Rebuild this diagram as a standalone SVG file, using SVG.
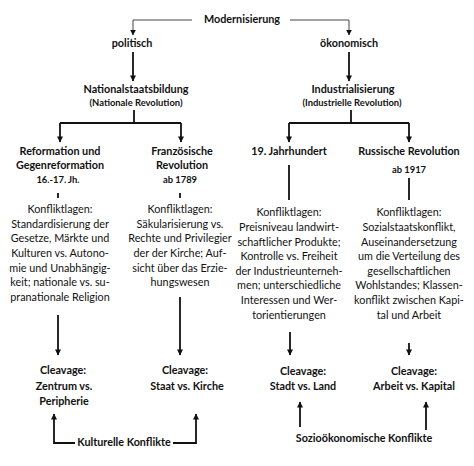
<svg xmlns="http://www.w3.org/2000/svg" width="474" height="466" viewBox="0 0 474 466">
<defs>
<style>
text{font-family:Lato,"Liberation Sans",sans-serif;fill:#111;text-anchor:middle}
.b{font-weight:bold;font-size:10.8px}
.s{font-weight:bold;font-size:9.4px}
.r{font-size:10.8px}
.c{fill:none;stroke:#111;stroke-width:1.8}
.t{fill:none;stroke:#444;stroke-width:1}
</style>
<marker id="ah" viewBox="0 0 10 10" refX="9" refY="5" markerWidth="3.4" markerHeight="3.4" orient="auto"><path d="M0,0L10,5L0,10z" fill="#111"/></marker>
<marker id="at" viewBox="0 0 10 10" refX="9" refY="5" markerWidth="6" markerHeight="6" orient="auto"><path d="M0,0L10,5L0,10z" fill="#111"/></marker>
</defs>
<rect width="474" height="466" fill="#fff"/>
<g id="connectors">
<path class="t" d="M192,20H133V35" marker-end="url(#at)"/>
<path class="t" d="M290,20H349V35" marker-end="url(#at)"/>
<path class="c" d="M133,52V81" marker-end="url(#ah)"/>
<path class="c" d="M349,52V81" marker-end="url(#ah)"/>
<path class="c" d="M134,110V123"/>
<path class="c" d="M60,123H181"/>
<path class="c" d="M60,123V142" marker-end="url(#ah)"/>
<path class="c" d="M181,123V142" marker-end="url(#ah)"/>
<path class="c" d="M351,110V123"/>
<path class="c" d="M289,123H409"/>
<path class="c" d="M289,123V142" marker-end="url(#ah)"/>
<path class="c" d="M409,123V142" marker-end="url(#ah)"/>
<path class="c" d="M58,193V198"/>
<path class="c" d="M180,193V198"/>
<path class="c" d="M289,165V200"/>
<path class="c" d="M409,178V200"/>
<path class="c" d="M58,315V355" marker-end="url(#ah)"/>
<path class="c" d="M180,297V355" marker-end="url(#ah)"/>
<path class="c" d="M290,332V355" marker-end="url(#ah)"/>
<path class="c" d="M409,343V355" marker-end="url(#ah)"/>
<path class="c" d="M75,443H54V414" marker-end="url(#ah)"/>
<path class="c" d="M173,443H196V414" marker-end="url(#ah)"/>
<path class="c" d="M300,427V402" marker-end="url(#ah)"/>
<path class="c" d="M426,430V402" marker-end="url(#ah)"/>
</g>
<g id="modernisierung"><text class="b" x="242" y="23">Modernisierung</text></g>
<g id="politisch"><text class="b" x="132" y="47">politisch</text></g>
<g id="oekonomisch"><text class="b" x="349" y="47">ökonomisch</text></g>
<g id="nationalstaatsbildung"><text class="b" x="136" y="93">Nationalstaatsbildung</text><text class="s" x="136" y="106">(Nationale Revolution)</text></g>
<g id="industrialisierung"><text class="b" x="353" y="93">Industrialisierung</text><text class="s" x="352" y="106">(Industrielle Revolution)</text></g>
<g id="reformation">
<text class="b" x="60" y="155">Reformation und</text>
<text class="b" x="60" y="169">Gegenreformation</text>
<text class="s" x="58" y="183">16.-17. Jh.</text>
<text class="r"><tspan x="60" y="213">Konfliktlagen:</tspan><tspan x="60" y="227.5">Standardisierung der</tspan><tspan x="60" y="242">Gesetze, Märkte und</tspan><tspan x="60" y="257">Kulturen vs. Autono-</tspan><tspan x="60" y="271.5">mie und Unabhängig-</tspan><tspan x="60" y="286">keit; nationale vs. su-</tspan><tspan x="60" y="301">pranationale Religion</tspan></text>
</g>
<g id="franzoesische">
<text class="b" x="182" y="155">Französische</text>
<text class="b" x="182" y="169">Revolution</text>
<text class="s" x="180" y="183">ab 1789</text>
<text class="r"><tspan x="180" y="213">Konfliktlagen:</tspan><tspan x="180" y="227.5">Säkularisierung vs.</tspan><tspan x="180" y="242">Rechte und Privilegier</tspan><tspan x="180" y="257">der der Kirche; Auf-</tspan><tspan x="180" y="271.5">sicht über das Erzie-</tspan><tspan x="180" y="286">hungswesen</tspan></text>
</g>
<g id="jahrhundert">
<text class="b" x="289" y="155">19. Jahrhundert</text>
<text class="r"><tspan x="289" y="216">Konfliktlagen:</tspan><tspan x="289" y="231">Preisniveau landwirt-</tspan><tspan x="289" y="245.5">schaftlicher Produkte;</tspan><tspan x="289" y="260">Kontrolle vs. Freiheit</tspan><tspan x="289" y="274.5">der Industrieunterneh-</tspan><tspan x="289" y="289">men; unterschiedliche</tspan><tspan x="289" y="304">Interessen und Wer-</tspan><tspan x="289" y="319">torientierungen</tspan></text>
</g>
<g id="russische">
<text class="b" x="409" y="155">Russische Revolution</text>
<text class="s" x="409" y="173">ab 1917</text>
<text class="r"><tspan x="409" y="216">Konfliktlagen:</tspan><tspan x="409" y="231">Sozialstaatskonflikt,</tspan><tspan x="409" y="245.5">Auseinandersetzung</tspan><tspan x="409" y="260">um die Verteilung des</tspan><tspan x="409" y="274.5">gesellschaftlichen</tspan><tspan x="409" y="289">Wohlstandes; Klassen-</tspan><tspan x="409" y="304">konflikt zwischen Kapi-</tspan><tspan x="409" y="319">tal und Arbeit</tspan></text>
</g>
<g id="cleavage1"><text class="b"><tspan x="63" y="374">Cleavage:</tspan><tspan x="64" y="390">Zentrum vs.</tspan><tspan x="64" y="405">Peripherie</tspan></text></g>
<g id="cleavage2"><text class="b"><tspan x="185" y="374">Cleavage:</tspan><tspan x="187" y="390">Staat vs. Kirche</tspan></text></g>
<g id="cleavage3"><text class="b"><tspan x="303" y="375">Cleavage:</tspan><tspan x="303" y="390">Stadt vs. Land</tspan></text></g>
<g id="cleavage4"><text class="b"><tspan x="414" y="375">Cleavage:</tspan><tspan x="414" y="390">Arbeit vs. Kapital</tspan></text></g>
<g id="kulturelle"><text class="b" x="124" y="446">Kulturelle Konflikte</text></g>
<g id="sozio"><text class="b" x="364" y="442">Sozioökonomische Konflikte</text></g>
</svg>
